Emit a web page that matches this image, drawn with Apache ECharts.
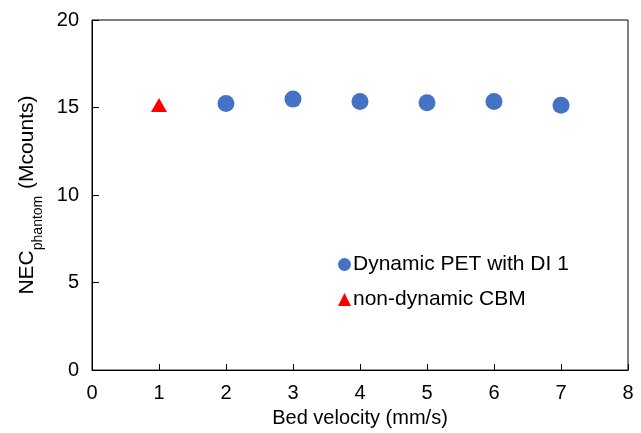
<!DOCTYPE html>
<html>
<head>
<meta charset="utf-8">
<script src="https://cdn.jsdelivr.net/npm/echarts@6/dist/echarts.min.js"></script>
<style>
  html, body { margin: 0; padding: 0; background: #fff; }
  #chart { width: 641px; height: 433px; }
</style>
</head>
<body>
<div id="chart"></div>
<script>
// bed velocity (mm/s) and NEC values
var dynVelocity = [2, 3, 4, 5, 6, 7];
var dynNec = [15.23, 15.48, 15.34, 15.27, 15.34, 15.13];
var cbmVelocity = [1];
var cbmNec = [15.15];

var font = 'Liberation Sans, Arial, sans-serif';

function pairs(xs, ys) {
    return xs.map(function (x, i) { return [x, ys[i]]; });
}

var myChart = echarts.init(document.getElementById('chart'));
myChart.setOption({
    animation: false,
    grid: {
        left: 92, right: 13, top: 20, bottom: 61,
        show: true, borderColor: '#000', borderWidth: 1
    },
    legend: {
        orient: 'vertical',
        left: 333, top: 249,
        itemWidth: 13, itemHeight: 13, itemGap: 14,
        textStyle: { fontFamily: font, fontSize: 21, color: '#000', padding: [0, 0, 0, -3] },
        data: [
            { name: 'Dynamic PET with DI 1', icon: 'circle' },
            { name: 'non-dynamic CBM', icon: 'triangle' }
        ]
    },
    xAxis: {
        type: 'value', min: 0, max: 8, interval: 1,
        name: 'Bed velocity (mm/s)', nameLocation: 'middle', nameGap: 33,
        nameTextStyle: { fontFamily: font, fontSize: 20, color: '#000' },
        axisLine: { lineStyle: { color: '#000', width: 1 } },
        axisTick: { inside: true, length: 6, lineStyle: { color: '#000' } },
        axisLabel: { fontFamily: font, fontSize: 20, color: '#000', margin: 13 },
        splitLine: { show: false }
    },
    yAxis: {
        type: 'value', min: 0, max: 20, interval: 5,
        name: '{a|NEC}{b|phantom}{a| (Mcounts)}', nameLocation: 'middle', nameGap: 54,
        nameTextStyle: {
            rich: {
                a: { fontFamily: font, fontSize: 21, color: '#000' },
                b: { fontFamily: font, fontSize: 14, color: '#000', verticalAlign: 'bottom', padding: [0, 1, -7, 0] }
            }
        },
        axisLine: { lineStyle: { color: '#000', width: 1 } },
        axisTick: { inside: true, length: 7, lineStyle: { color: '#000' } },
        axisLabel: { fontFamily: font, fontSize: 20, color: '#000', margin: 13 },
        splitLine: { show: false }
    },
    series: [
        {
            name: 'Dynamic PET with DI 1', type: 'scatter',
            symbol: 'circle', symbolSize: 17,
            itemStyle: { color: '#4472C4', opacity: 1 },
            data: pairs(dynVelocity, dynNec)
        },
        {
            name: 'non-dynamic CBM', type: 'scatter',
            symbol: 'triangle', symbolSize: [16, 14],
            itemStyle: { color: '#FF0000', opacity: 1 },
            data: pairs(cbmVelocity, cbmNec)
        }
    ]
});
</script>
</body>
</html>
